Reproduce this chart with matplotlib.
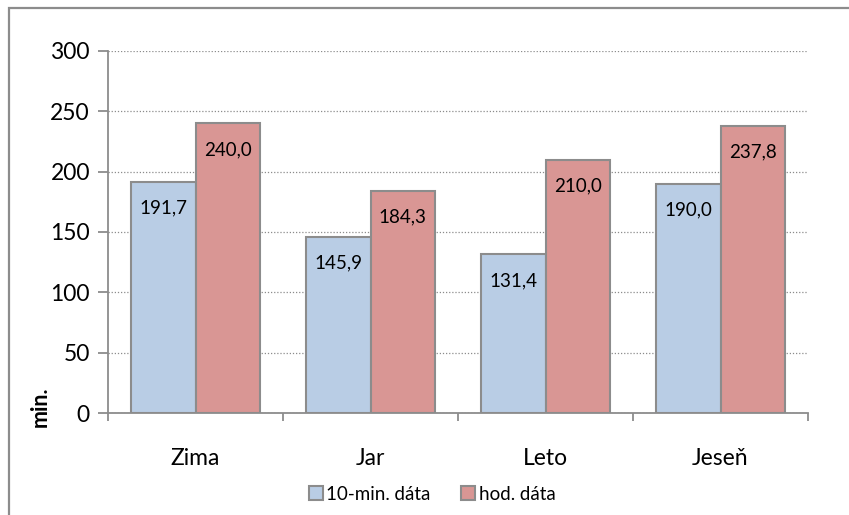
import matplotlib
matplotlib.use("Agg")
import matplotlib.pyplot as plt
from matplotlib.patches import Rectangle
import numpy as np

categories = ["Zima", "Jar", "Leto", "Jeseň"]
ten_min = [191.7, 145.9, 131.4, 190.0]
hourly = [240.0, 184.3, 210.0, 237.8]
series_names = ["10-min. dáta", "hod. dáta"]
yticks = [0, 50, 100, 150, 200, 250, 300]

plt.rcParams['font.family'] = ['Lato', 'DejaVu Sans']

W, H = 849, 515
fig = plt.figure(figsize=(W/100, H/100), dpi=100)
fig.patch.set_facecolor("white")
fig.patches.append(Rectangle((9/W, -20/H), 900/W, 527/H, transform=fig.transFigure,
                             fill=False, edgecolor="#8c8c8c", linewidth=1.6))

ax = fig.add_axes([108/W, 1 - 413/H, 700/W, 362/H])
x = np.arange(len(categories))
bw = 0.37
blue = "#B9CDE5"
red = "#D99694"
edge = "#8c8c8c"
b1 = ax.bar(x - bw/2, ten_min, bw, color=blue, edgecolor=edge, linewidth=1.5, label=series_names[0], zorder=3)
b2 = ax.bar(x + bw/2, hourly, bw, color=red, edgecolor=edge, linewidth=1.5, label=series_names[1], zorder=3)

off = -26 * 72 / 100
for i in range(len(categories)):
    ax.annotate(f"{ten_min[i]:.1f}".replace(".", ","), (x[i] - bw/2, ten_min[i]),
                xytext=(0, off), textcoords="offset points",
                ha="center", va="center", fontsize=13.5, zorder=4)
    ax.annotate(f"{hourly[i]:.1f}".replace(".", ","), (x[i] + bw/2, hourly[i]),
                xytext=(0, off), textcoords="offset points",
                ha="center", va="center", fontsize=13.5, zorder=4)

ax.set_xlim(-0.5, len(categories) - 0.5)
ax.set_ylim(0, 300)
ax.set_yticks(yticks)
ax.set_yticklabels([str(t) for t in yticks], fontsize=16.5)
ax.yaxis.grid(True, linestyle=(0, (1, 1.5)), color="#8c8c8c", linewidth=0.9, zorder=0)
ax.set_axisbelow(True)

ax.set_xticks(np.arange(len(categories) + 1) - 0.5)
ax.set_xticklabels([])
ax.set_xticks(x, minor=True)
ax.set_xticklabels(categories, minor=True, fontsize=16.5)
ax.tick_params(axis="x", which="minor", length=0, pad=25)
ax.tick_params(axis="x", which="major", length=6, color=edge, width=1.3)
ax.tick_params(axis="y", length=7, color=edge, width=1.3, pad=6)

for s in ["top", "right"]:
    ax.spines[s].set_visible(False)
for s in ["left", "bottom"]:
    ax.spines[s].set_color(edge)
    ax.spines[s].set_linewidth(1.3)

fig.text(40/W, 1 - 407/H, "min.", rotation=90, ha="center", va="center",
         fontsize=15.5, fontweight="bold")

leg = fig.legend(handles=[b1, b2], labels=series_names, loc="center",
                 bbox_to_anchor=(432/W, 1 - 494/H), ncol=2, frameon=False,
                 fontsize=13.5, handlelength=0.75, handleheight=0.75,
                 handletextpad=0.2, columnspacing=1.6)

fig.savefig("out.png", dpi=100)
